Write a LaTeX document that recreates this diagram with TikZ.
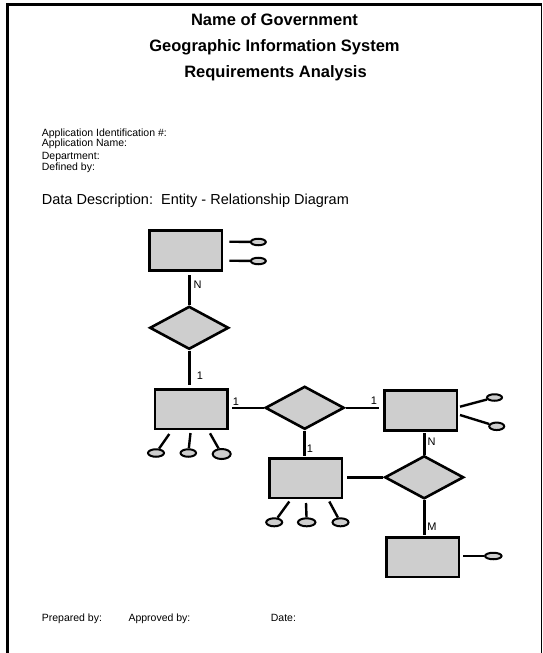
\documentclass[tikz,border=0pt]{standalone}
\usepackage{fontspec}
\setmainfont{Liberation Sans}
\usetikzlibrary{shapes.geometric}
\definecolor{entfill}{RGB}{206,206,206}
\begin{document}
\begin{tikzpicture}[x=1pt,y=-1pt,
  entity/.style={rectangle, draw=black, fill=entfill, line width=2.6pt,
    minimum width=72.6pt, minimum height=39.6pt, inner sep=0pt},
  relation/.style={diamond, draw=black, fill=entfill, line width=2.6pt,
    minimum width=79pt, minimum height=43pt, inner sep=0pt},
  attr/.style={ellipse, draw=black, fill=entfill, line width=2pt, inner sep=0pt},
  link/.style={line width=2.6pt},
  alink/.style={line width=2.4pt},
  card/.style={font=\fontsize{11}{13}\selectfont, inner sep=0pt},
  title/.style={font=\fontsize{16.5}{19}\selectfont\bfseries, anchor=base, inner sep=0pt},
  small/.style={font=\fontsize{10.5}{12}\selectfont, anchor=base west, inner sep=0pt},
  caption/.style={font=\fontsize{14.5}{17}\selectfont, anchor=base west, inner sep=0pt}]

\useasboundingbox (0,0) rectangle (543,653);

% page frame, open at the bottom
\draw[line width=3pt] (7.5,653) |- (541.5,4);
\draw[line width=1.5pt] (541.5,4) -- (541.5,653);

% heading
\node[title] (t1) at (274.5,25) {Name of Government};
\node[title] (t2) at (274.5,51.3) {Geographic Information System};
\node[title] (t3) at (275.5,77.4) {Requirements Analysis};

\node[small] (h1) at (41.7,136.8) {Application Identification \#:};
\node[small] (h2) at (41.7,146.6) {Application Name:};
\node[small] (h3) at (41.7,159.1) {Department:};
\node[small] (h4) at (41.7,170.8) {Defined by:};

\node[caption] (dd) at (41.7,204.4) {Data Description:\ \ Entity - Relationship Diagram};

% entities
\node[entity] (E1) at (185.8,250.5) {};
\node[entity] (E2) at (191.3,409.2) {};
\node[entity] (E3) at (420.5,410.5) {};
\node[entity] (E4) at (305.8,478.3) {};
\node[entity] (E5) at (422.8,557) {};

% relationships
\node[relation] (D1) at (189.2,327.8) {};
\node[relation] (D2) at (304.7,407.8) {};
\node[relation] (D3) at (424.2,477.3) {};

% connectors
\draw[link, shorten >=3.5pt] (D1.north) -- (D1.north |- E1.south);
\draw[link, shorten >=3.5pt] (D1.south) -- (D1.south |- E2.north);
\draw[link, shorten >=3.5pt] (D2.west) -- (D2.west -| E2.east);
\draw[link, shorten >=3.5pt] (D2.east) -- (D2.east -| E3.west);
\draw[link, shorten >=1pt] (D2.south) -- (D2.south |- E4.north);
\draw[link, shorten >=1.5pt] (D3.north) -- (D3.north |- E3.south);
\draw[link, shorten >=3.5pt] (D3.west) -- (D3.west -| E4.east);
\draw[link, shorten >=1pt] (D3.south) -- (D3.south |- E5.north);

% cardinalities
\node[card] (n1) at (197.5,285) {N};
\node[card] (n2) at (200,376) {1};
\node[card] (n3) at (236,401.5) {1};
\node[card] (n4) at (374,401) {1};
\node[card] (n5) at (310,449) {1};
\node[card] (n6) at (431.5,441.5) {N};
\node[card] (n7) at (432,527) {M};

% attributes
\node[attr, minimum width=15pt, minimum height=6.5pt] (a11) at (258.3,242) {};
\node[attr, minimum width=15pt, minimum height=6.5pt] (a12) at (258.3,261) {};
\coordinate (c11) at (229.3,241.7);
\coordinate (c12) at (229.3,260.7);
\draw[alink] (c11) -- (a11);
\draw[alink] (c12) -- (a12);

\node[attr, minimum width=16pt, minimum height=7.5pt] (a21) at (156,453) {};
\node[attr, minimum width=15.5pt, minimum height=7.5pt] (a22) at (188.3,453) {};
\node[attr, minimum width=18pt, minimum height=10pt] (a23) at (221.7,454) {};
\coordinate (c21) at (169.3,434);
\coordinate (c22) at (190.5,433);
\coordinate (c23) at (210,433.3);
\draw[alink] (c21) -- (a21);
\draw[alink] (c22) -- (a22);
\draw[alink] (c23) -- (a23);

\node[attr, minimum width=15pt, minimum height=6.5pt] (a31) at (494.5,397.5) {};
\node[attr, minimum width=15pt, minimum height=7.5pt] (a32) at (496.7,426.3) {};
\coordinate (c31) at (460,406.7);
\coordinate (c32) at (460,415);
\draw[alink] (c31) -- (a31);
\draw[alink] (c32) -- (a32);

\node[attr, minimum width=16pt, minimum height=8pt] (a41) at (274.2,522.3) {};
\node[attr, minimum width=17.5pt, minimum height=8pt] (a42) at (306.7,522.3) {};
\node[attr, minimum width=16pt, minimum height=8pt] (a43) at (340.5,522.3) {};
\coordinate (c41) at (289.3,501.5);
\coordinate (c42) at (306,503);
\coordinate (c43) at (329.3,501.5);
\draw[alink] (c41) -- (a41);
\draw[alink] (c42) -- (a42);
\draw[alink] (c43) -- (a43);

\node[attr, minimum width=16.5pt, minimum height=6.5pt] (a51) at (493.3,556) {};
\coordinate (c51) at (463.3,556);
\draw[alink] (c51) -- (a51);

% signature line
\node[small] (f1) at (41.7,621.5) {Prepared by:};
\node[small] (f2) at (128.3,621.5) {Approved by:};
\node[small] (f3) at (270.7,621.5) {Date:};
\end{tikzpicture}
\end{document}
